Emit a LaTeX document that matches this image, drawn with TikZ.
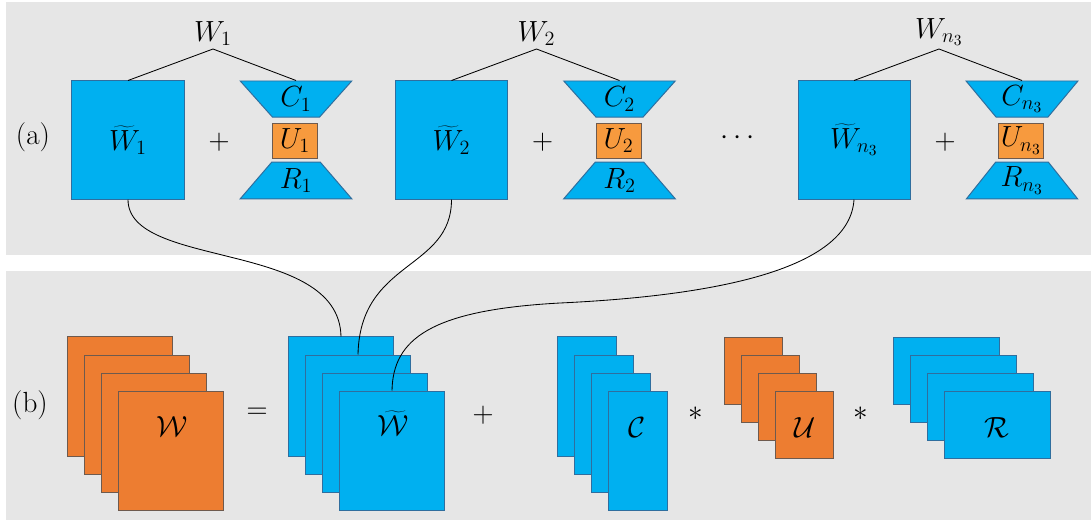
\documentclass[tikz,border=0pt]{standalone}
\usetikzlibrary{shapes.geometric}

\definecolor{panelgray}{HTML}{E6E6E6}
\definecolor{cellblue}{HTML}{00B0F0}
\definecolor{blueline}{HTML}{2F6E9E}
\definecolor{cellorange}{HTML}{ED7D31}
\definecolor{coreorange}{HTML}{F79A3E}
\definecolor{orangeline}{HTML}{6E5A4E}

\begin{document}
\begin{tikzpicture}[x=0.025cm,y=-0.025cm,
  bluebox/.style={draw=blueline,fill=cellblue,line width=0.7pt,inner sep=0pt},
  orangebox/.style={draw=orangeline,fill=cellorange,line width=0.7pt,inner sep=0pt},
  ctrap/.style={bluebox,trapezium,shape border rotate=180,trapezium angle=49,
    trapezium stretches=true,minimum width=2.8cm,minimum height=0.9cm},
  rtrap/.style={bluebox,trapezium,trapezium angle=49,
    trapezium stretches=true,minimum width=2.8cm,minimum height=0.92cm},
  mlabel/.style={font=\fontsize{21}{24}\selectfont},
  opsign/.style={font=\huge},
  link/.style={line width=0.6pt}]

  % fundo dos dois paineis
  \useasboundingbox (0,0) rectangle (1091,521);
  \fill[panelgray] (6,2) rectangle (1091,255);
  \fill[panelgray] (6,271) rectangle (1091,520);

  % painel (a): W_k = W~_k + C_k U_k R_k
  \node[opsign] (lbla) at (33,137) {(a)};
  \foreach \k/\x/\s in {1/128/1, 2/451.5/2, 3/854/{n_3}} {
    \node[bluebox,minimum width=2.8cm,minimum height=2.95cm,mlabel] (Wt\k) at (\x,140) {$\widetilde{W}_{\s}$};
    \node[opsign] (plus\k) at (\x+91,142) {$+$};
    \node[ctrap,mlabel] (C\k) at (\x+168,99) {$C_{\s}$};
    \node[draw=orangeline,fill=coreorange,line width=0.7pt,inner sep=0pt,
      minimum width=1.125cm,minimum height=0.875cm,mlabel] (U\k) at (\x+167,140.5) {$U_{\s}$};
    \node[rtrap,mlabel] (R\k) at (\x+168,180.5) {$R_{\s}$};
    \node[mlabel,anchor=south,inner sep=2pt] (W\k) at (\x+85,49) {$W_{\s}$};
    \draw[link] (Wt\k.north) -- (W\k.south) -- (C\k.north);
  }
  \node[opsign] (dots) at (738,138) {$\cdots$};

  % painel (b): W = W~ + C * U * R (pilhas de 4 fatias)
  \node[opsign] (lblb) at (30,405) {(b)};
  \foreach \i in {1,...,4} {
    \node[orangebox,minimum width=2.6cm,minimum height=2.975cm] (Xo\i) at (120+17*\i-17,396.5+18*\i-18) {};
    \node[bluebox,minimum width=2.6cm,minimum height=2.975cm] (Xb\i) at (341+17*\i-17,396.5+18*\i-18) {};
    \node[bluebox,minimum width=1.475cm,minimum height=2.975cm] (Xc\i) at (586.5+17*\i-17,396.5+18*\i-18) {};
    \node[orangebox,minimum width=1.45cm,minimum height=1.675cm] (Xu\i) at (753+17*\i-17,370.5+18*\i-18) {};
    \node[bluebox,minimum width=2.65cm,minimum height=1.675cm] (Xr\i) at (946+17*\i-17,370.5+18*\i-18) {};
  }
  \node[mlabel] (lblW) at (172,427) {$\mathcal{W}$};
  \node[mlabel] (lblWt) at (393,423) {$\widetilde{\mathcal{W}}$};
  \node[mlabel] (lblC) at (637,428) {$\mathcal{C}$};
  \node[mlabel] (lblU) at (805,428) {$\mathcal{U}$};
  \node[mlabel] (lblR) at (997,428) {$\mathcal{R}$};

  \node[opsign] (eq) at (257,413) {$=$};
  \node[opsign] (plusb) at (483,415) {$+$};
  \node[opsign] (star1) at (696,414) {$\ast$};
  \node[opsign] (star2) at (861,414) {$\ast$};

  % ligacoes entre os W~_k e as fatias
  \draw[link] (Wt1.south) .. controls +(0,70) and +(-2,-97) .. (Xb1.north);
  \draw[link] (Wt2.south) .. controls +(0,71) and +(2,-95) .. (Xb2.north);
  \coordinate (bend3) at (560,303);
  \draw[link] (Wt3.south) .. controls +(-4,66) and +(170,-8) .. (bend3)
    .. controls +(-130,7) and +(1,-51) .. (Xb4.north);

\end{tikzpicture}
\end{document}
